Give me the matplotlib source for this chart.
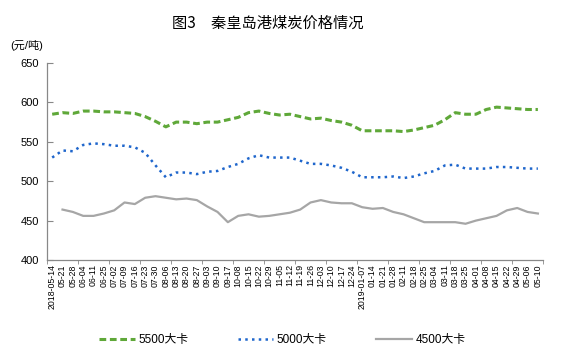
import numpy as np
import matplotlib
matplotlib.use("Agg")
import matplotlib.pyplot as plt

plt.rcParams["font.family"] = ["Liberation Sans", "Noto Sans CJK SC"]

# weekly dates, as printed on the x axis
dates = ["2018-05-14", "05-21", "05-28", "06-04", "06-11", "06-25",
         "07-02", "07-09", "07-16", "07-23", "07-30", "08-06", "08-13",
         "08-20", "08-27", "09-03", "09-10", "09-17", "10-08", "10-15",
         "10-22", "10-29", "11-05", "11-12", "11-19", "11-26", "12-03",
         "12-10", "12-17", "12-24", "2019-01-07", "01-14", "01-21",
         "01-28", "02-11", "02-18", "02-25", "03-04", "03-11", "03-18",
         "03-25", "04-01", "04-08", "04-15", "04-22", "04-29", "05-06",
         "05-10"]

# prices, yuan/ton
kcal_5500 = [585, 587, 586, 589, 589, 588, 588, 587, 586, 582, 576, 569,
             575, 575, 573, 575, 575, 578, 581, 587, 589, 586, 584, 585,
             582, 579, 580, 577, 575, 571, 564, 564, 564, 564, 563, 565,
             568, 571, 578, 587, 585, 585, 591, 594, 593, 592, 591, 591]
kcal_5000 = [530, 539, 538, 546, 548, 547, 545, 545, 543, 536, 520, 505,
             511, 511, 509, 512, 513, 518, 522, 529, 533, 530, 530, 530,
             526, 522, 522, 520, 517, 512, 505, 505, 505, 506, 504, 506,
             510, 513, 520, 521, 516, 516, 516, 518, 518, 517, 516, 516]
kcal_4500 = [np.nan, 464, 461, 456, 456, 459, 463, 473, 471, 479, 481, 479,
             477, 478, 476, 468, 461, 448, 456, 458, 455, 456, 458, 460,
             464, 473, 476, 473, 472, 472, 467, 465, 466, 461, 458, 453,
             448, 448, 448, 448, 446, 450, 453, 456, 463, 466, 461, 459]

x = np.arange(len(dates))

fig = plt.figure(figsize=(5.61, 3.57), dpi=100)
ax = fig.add_axes([0.0838, 0.2717, 0.8842, 0.5518])

ax.plot(x, kcal_5500, color="#5fa839", linewidth=2.2,
        linestyle=(0, (2.2, 1.2)), label="5500大卡")
ax.plot(x, kcal_5000, color="#1f66cc", linewidth=1.8,
        linestyle=(0, (1, 1.7)), label="5000大卡")
ax.plot(x, kcal_4500, color="#a6a6a6", linewidth=1.6, label="4500大卡")

ax.set_xlim(-0.5, len(dates) - 0.5)
ax.set_ylim(400, 650)
ax.set_yticks(range(400, 651, 50))
ax.tick_params(axis="y", direction="in", length=4, labelsize=8,
               color="#888888", pad=6)

ax.set_xticks(x)
ax.set_xticklabels(dates, rotation=90, fontsize=6.3)
ax.tick_params(axis="x", length=0, pad=3)
ax.set_xticks(np.arange(-0.5, len(dates), 3), minor=True)
ax.tick_params(axis="x", which="minor", direction="out", length=3,
               color="#888888")

for side in ("top", "right"):
    ax.spines[side].set_visible(False)
for side in ("left", "bottom"):
    ax.spines[side].set_color("#888888")
    ax.spines[side].set_linewidth(0.9)

fig.text(0.477, 0.935, "图3　秦皇岛港煤炭价格情况", ha="center", va="center",
         fontsize=11, family=["Noto Sans CJK SC"], weight="medium")
fig.text(0.018, 0.872, "(元/吨)", ha="left", va="center", fontsize=8,
         family=["Liberation Sans", "Noto Sans CJK SC"])

fig.legend(loc="center", bbox_to_anchor=(0.503, 0.048), ncol=3,
           frameon=False, fontsize=8.5, handlelength=3.0, columnspacing=4.2,
           handletextpad=0.3)

fig.savefig("out.png", dpi=100)
